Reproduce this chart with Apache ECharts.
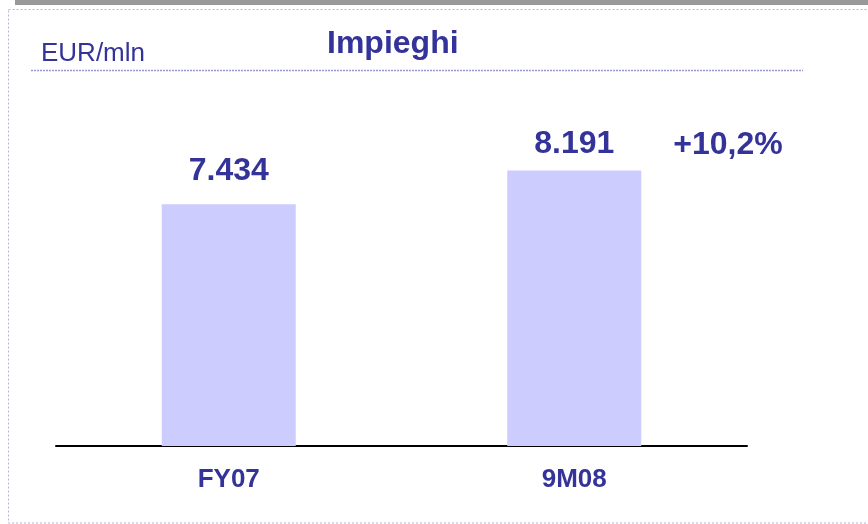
<!DOCTYPE html>
<html>
<head>
<meta charset="utf-8">
<script src="https://cdn.jsdelivr.net/npm/echarts@6/dist/echarts.min.js"></script>
<style>
  html,body{margin:0;padding:0;background:#fff;}
  #chart{width:868px;height:524px;}
</style>
</head>
<body>
<div id="chart"></div>
<script>
  const categories = ['FY07', '9M08'];
  const values = [7434, 8191];
  const labelGap = [17, 10];
  const titleText = 'Impieghi';
  const unitText = 'EUR/mln';
  const growthText = '+10,2%';

  function fmtIt(n){ return String(n).replace(/\B(?=(\d{3})+(?!\d))/g, '.'); }

  const navy = '#333399';
  const chart = echarts.init(document.getElementById('chart'));
  chart.setOption({
    animation: false,
    title: {
      text: titleText, left: 322, top: 23,
      textStyle: { fontFamily: 'Liberation Sans, Arial', fontSize: 32, fontWeight: 'bold', color: navy }
    },
    grid: { left: 56, right: 121, top: 90, bottom: 78 },
    xAxis: {
      type: 'category', data: categories,
      axisLine: { lineStyle: { color: '#000', width: 2 } },
      axisTick: { show: false },
      axisLabel: { margin: 21, fontFamily: 'Liberation Sans, Arial', fontSize: 26, fontWeight: 'bold', color: navy }
    },
    yAxis: { type: 'value', min: 2000, max: 10000, show: false, splitLine: { show: false } },
    series: [{
      type: 'bar', barWidth: 134,
      itemStyle: { color: '#ccccff' },
      data: values.map((v, i) => ({
        value: v,
        label: {
          show: true, position: 'top', distance: labelGap[i],
          formatter: p => fmtIt(p.value),
          fontFamily: 'Liberation Sans, Arial', fontSize: 32, fontWeight: 'bold', color: navy
        }
      }))
    }],
    graphic: [
      { type: 'rect', shape: { x: 15, y: 0, width: 860, height: 5 }, style: { fill: '#999999' }, silent: true },
      { type: 'rect', shape: { x: 8.5, y: 9.5, width: 870, height: 513.5 },
        style: { fill: null, stroke: '#b4b4d8', lineWidth: 1, lineDash: [2, 2] }, silent: true },
      { type: 'line', shape: { x1: 31, y1: 70.5, x2: 803, y2: 70.5 },
        style: { stroke: '#9999cc', lineWidth: 1.5, lineDash: [2, 1] }, silent: true },
      { type: 'text', x: 41, y: 67, style: { text: unitText, fill: navy, font: '26px "Liberation Sans", Arial',
          textVerticalAlign: 'bottom', textBaseline: 'alphabetic' }, silent: true },
      { type: 'text', x: 728, y: 145, style: { text: growthText, fill: navy, font: 'bold 32px "Liberation Sans", Arial',
          textAlign: 'center', textVerticalAlign: 'middle' }, silent: true }
    ]
  });
</script>
</body>
</html>
